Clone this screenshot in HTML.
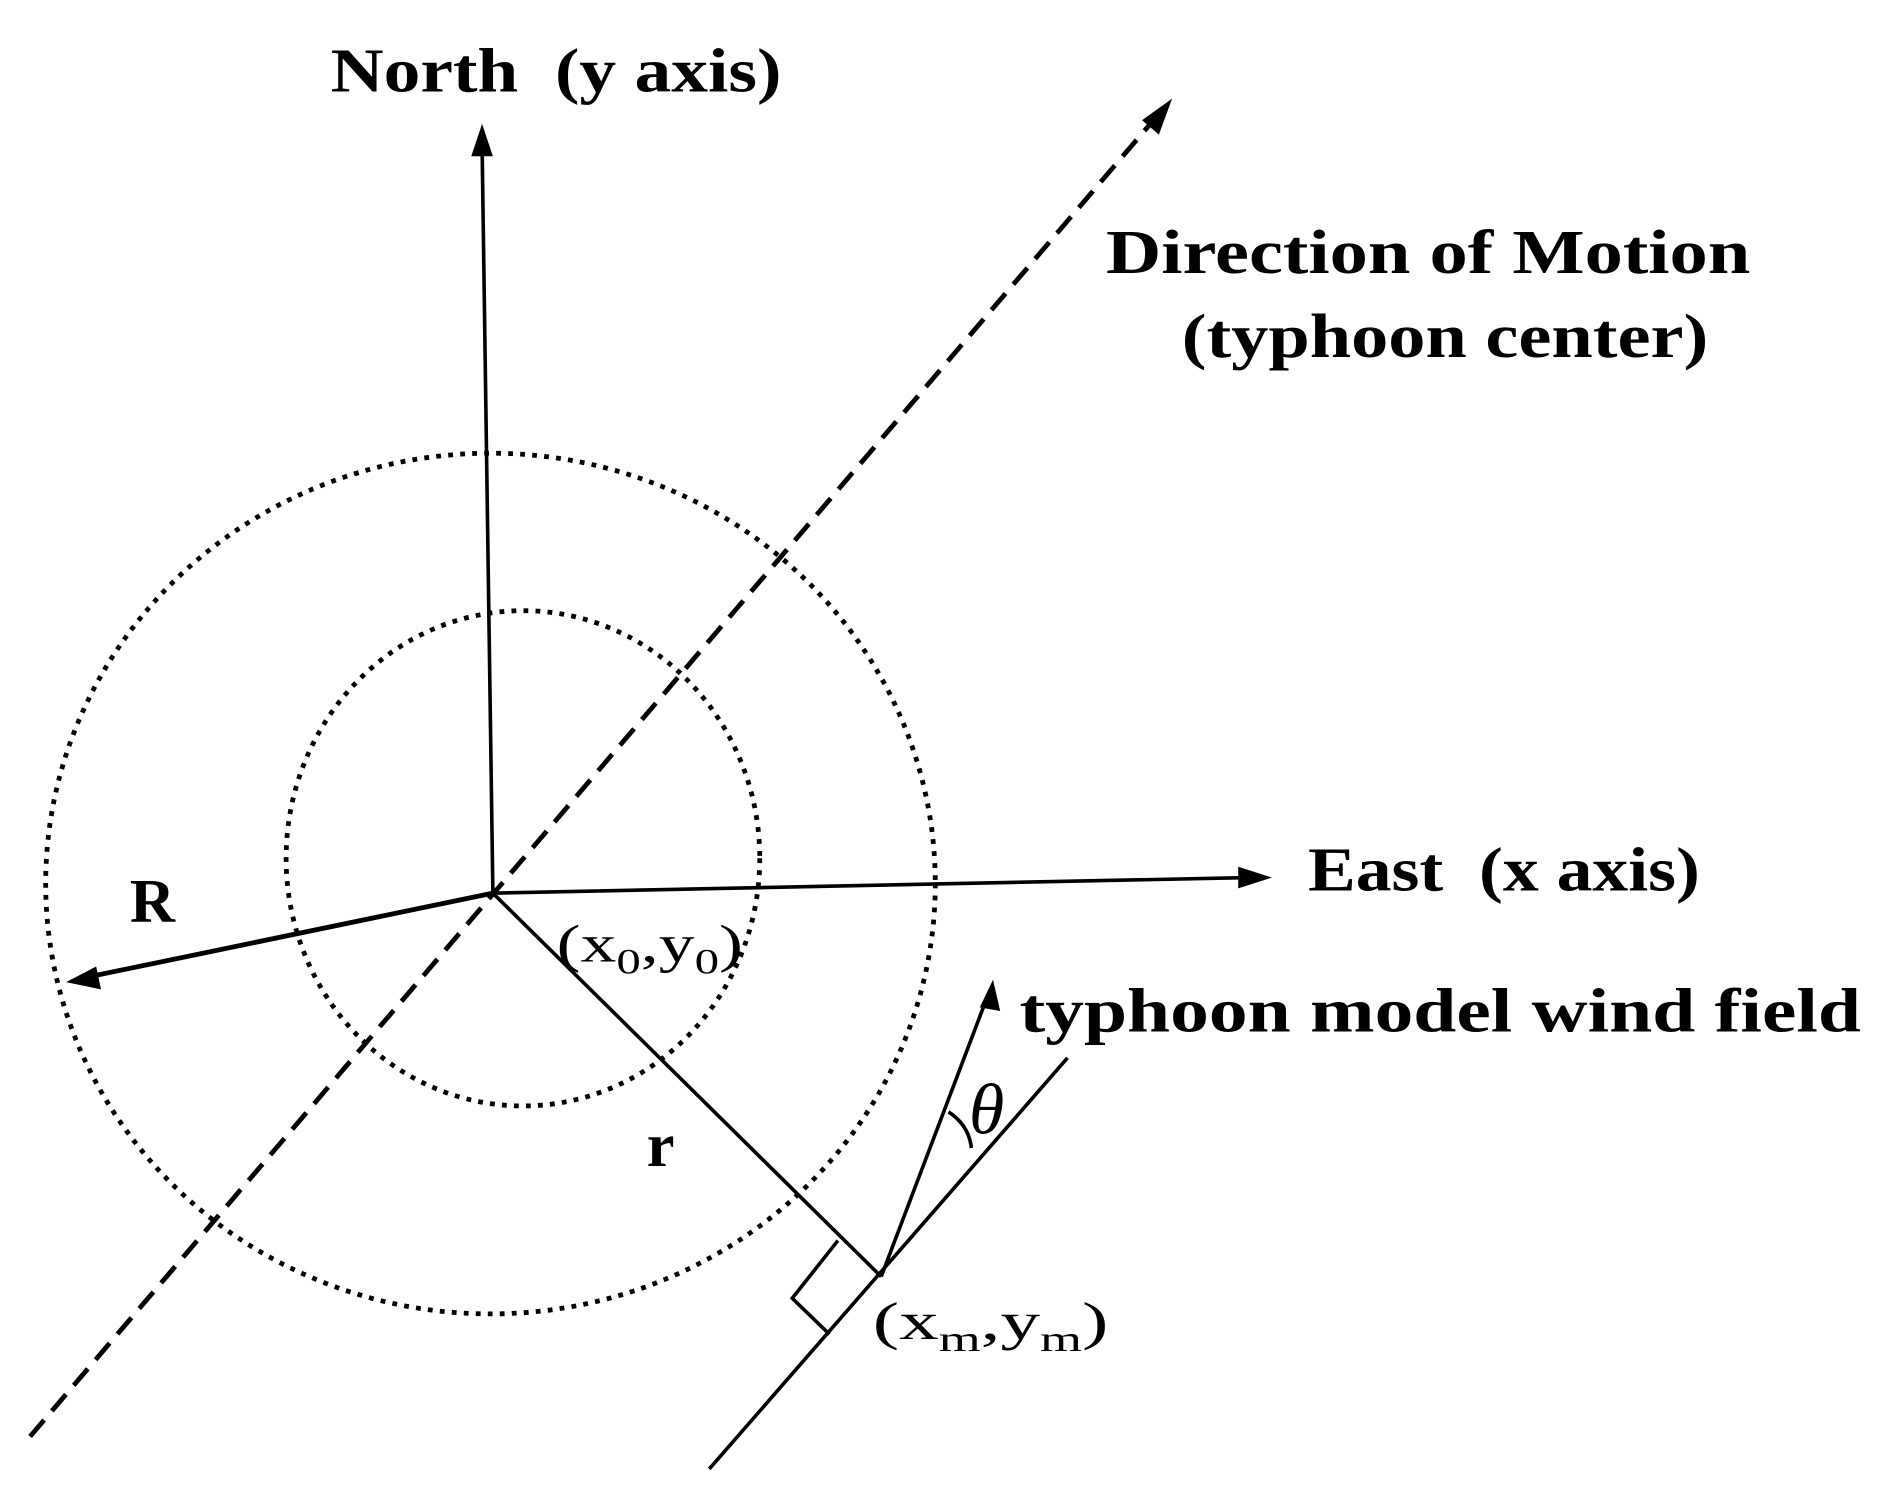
<!DOCTYPE html>
<html><head><style>html,body{margin:0;padding:0;background:#fff}svg{display:block}</style></head>
<body>
<svg width="1885" height="1493" viewBox="0 0 1568 1242" preserveAspectRatio="none" xmlns="http://www.w3.org/2000/svg">
<g fill="none" stroke="#000" stroke-linecap="butt">
<ellipse cx="408" cy="735" rx="370" ry="358" stroke-width="4" stroke-dasharray="4 6"/>
<ellipse cx="435" cy="714" rx="197" ry="206" stroke-width="4" stroke-dasharray="4 6"/>
<line x1="25" y1="1195" x2="968" y2="90" stroke-width="4" stroke-dasharray="18 10"/>
<line x1="410" y1="743" x2="401" y2="120" stroke-width="3"/>
<line x1="410" y1="743" x2="1040" y2="730" stroke-width="3"/>
<line x1="410" y1="743" x2="72" y2="813" stroke-width="4"/>
<line x1="410" y1="743" x2="733" y2="1062" stroke-width="3"/>
<line x1="590" y1="1222" x2="888" y2="880" stroke-width="3"/>
<line x1="733" y1="1062" x2="821" y2="830" stroke-width="3"/>
<polyline points="697,1032 659,1080 690,1110" stroke-width="3"/>
<path d="M789,925 Q806,936 808,955" stroke-width="3"/>
</g>
<g fill="#000">
<path d="M401,103 L392,130 L410,130 z"/>
<path d="M1058,730 L1030,721 L1030,739 z"/>
<path d="M55,817 L80,804 L84,823 z"/>
<path d="M975,82 L950,100 L964,112 z"/>
<path d="M826,815 L815,838 L832,841 z"/>
</g>
<g font-family="'Liberation Serif',serif" font-weight="bold" font-size="52" fill="#000">
<text x="275" y="76" textLength="375" lengthAdjust="spacingAndGlyphs" xml:space="preserve">North  (y axis)</text>
<text x="920" y="227" textLength="536" lengthAdjust="spacingAndGlyphs">Direction of Motion</text>
<text x="983" y="297" textLength="438" lengthAdjust="spacingAndGlyphs">(typhoon center)</text>
<text x="1088" y="741" textLength="326" lengthAdjust="spacingAndGlyphs" xml:space="preserve">East  (x axis)</text>
<text x="848" y="858" textLength="700" lengthAdjust="spacingAndGlyphs">typhoon model wind field</text>
<text x="108" y="767">R</text>
<text x="538" y="970">r</text>
<text x="463" y="800" font-size="44" font-weight="normal" textLength="155" lengthAdjust="spacingAndGlyphs">(x<tspan font-size="30" dy="10">0</tspan><tspan dy="-10">,y</tspan><tspan font-size="30" dy="10">0</tspan><tspan dy="-10">)</tspan></text>
<text x="726" y="1114" font-size="44" font-weight="normal" textLength="196" lengthAdjust="spacingAndGlyphs">(x<tspan font-size="30" dy="10">m</tspan><tspan dy="-10">,y</tspan><tspan font-size="30" dy="10">m</tspan><tspan dy="-10">)</tspan></text>
<text x="806" y="943" font-size="60" font-weight="normal" font-style="italic">θ</text>
</g>
</svg>
</body></html>
